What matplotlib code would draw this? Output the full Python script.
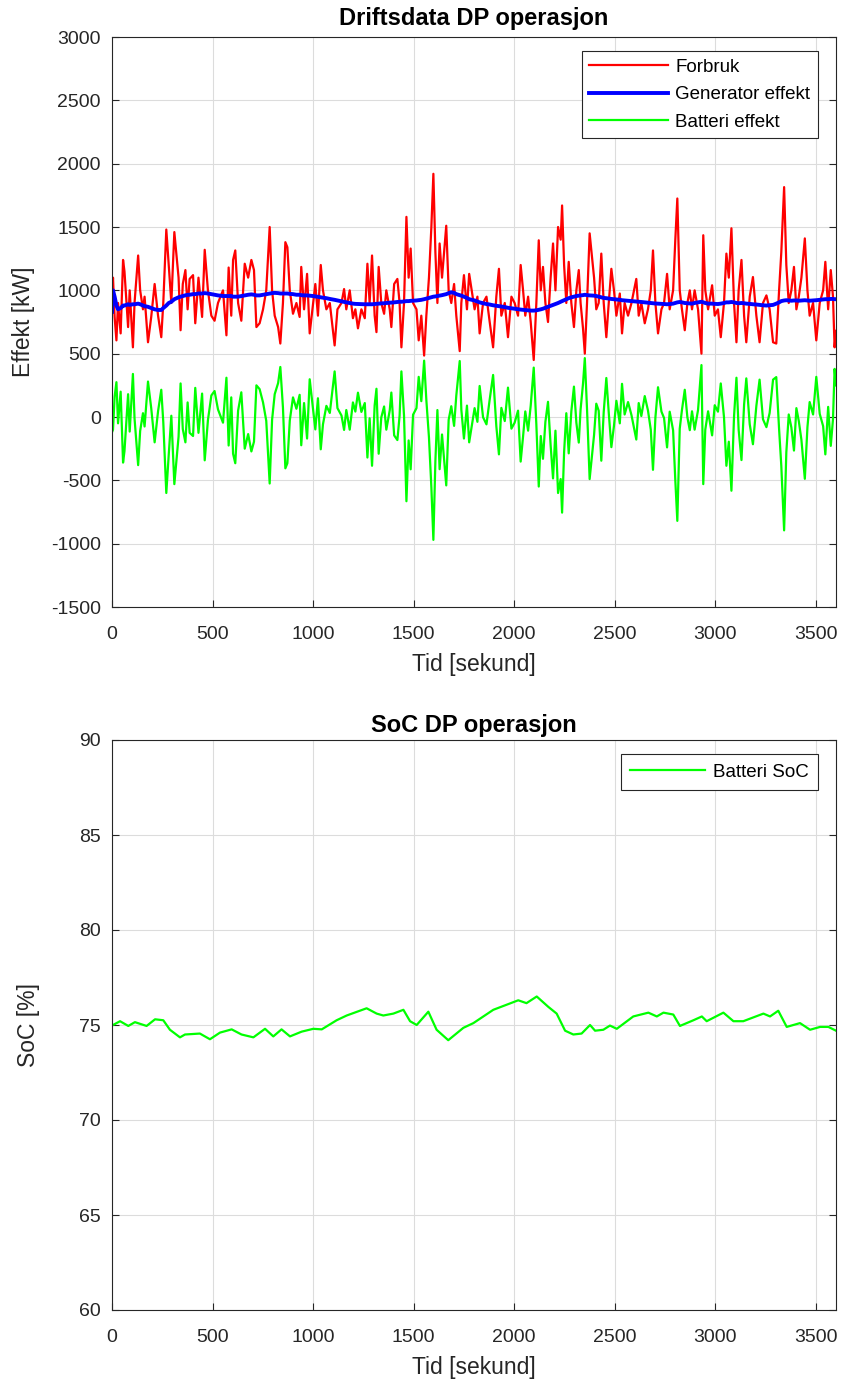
import matplotlib
matplotlib.use("Agg")
import matplotlib.pyplot as plt

plt.rcParams['font.family'] = ['Liberation Sans', 'DejaVu Sans']
plt.rcParams['axes.unicode_minus'] = False

# ---------------- Power data ----------------
tid = [0, 5, 13, 22, 30, 43, 55, 62, 80, 88, 104, 112, 130, 140, 154, 162, 179, 195, 212, 229,
       245, 255, 270, 282, 295, 310, 331, 341, 352, 365, 376, 386, 403, 414, 430, 448, 461, 477, 494, 510,
       527, 552, 569, 580,
       593, 602, 613, 627, 643, 660, 677, 693, 706, 718, 734, 751, 767, 784, 796, 809, 826, 837, 850, 862,
       872, 884, 900, 917, 933, 941, 955, 970, 983, 1000, 1011, 1024, 1038, 1049, 1066, 1083, 1107, 1121, 1141, 1154,
       1165, 1182,
       1198, 1210, 1223, 1240, 1257, 1270, 1281, 1293, 1306, 1315, 1326, 1339, 1353, 1364, 1381, 1389, 1403, 1419, 1430, 1439,
       1452, 1464, 1475, 1485, 1497, 1514, 1525, 1538, 1552, 1563, 1576, 1588, 1598, 1608, 1618, 1629, 1641, 1662, 1674, 1687,
       1701, 1712, 1729, 1737, 1750, 1765, 1776,
       1803, 1817, 1828, 1845, 1862, 1878, 1895, 1911, 1924, 1936, 1953, 1969, 1986, 2002, 2019, 2032, 2044, 2055, 2069, 2082,
       2097, 2110, 2122, 2132, 2143, 2155, 2168, 2181, 2193, 2205, 2218, 2231, 2238, 2248, 2259, 2271, 2284, 2297, 2309, 2321,
       2330, 2342, 2351, 2362, 2375,
       2397, 2408, 2420, 2433, 2445, 2458, 2470, 2483, 2496, 2508, 2525, 2536, 2549, 2566, 2583, 2607, 2619, 2632, 2649, 2665,
       2679, 2690, 2702, 2715, 2732, 2745, 2760, 2773, 2790, 2801, 2811, 2823, 2834, 2848, 2861, 2873, 2884, 2897, 2914, 2931,
       2940, 2950, 2964,
       2984, 2997, 3013, 3027, 3043, 3055, 3067, 3080, 3093, 3105, 3116, 3130, 3143, 3154, 3171, 3187, 3204, 3220, 3237, 3254,
       3270, 3287, 3303, 3317, 3328, 3342, 3353, 3365, 3378, 3391, 3403, 3415, 3428, 3445, 3458, 3469, 3486, 3502, 3519, 3536,
       3547, 3561, 3574, 3585, 3593, 3600]

forbruk = [950, 1100, 790, 605, 900, 660, 1240, 1150, 710, 1000, 550, 900, 1275, 1000, 850, 950, 590, 790, 1050, 800,
           630, 900, 1480, 1200, 900, 1460, 1100, 685, 1050, 1160, 850, 1090, 1120, 740, 1100, 790, 1320, 1000, 800, 760,
           900, 1000, 645, 1180,
           800, 1240, 1315, 900, 760, 1210, 1100, 1240, 1160, 710, 740, 850, 1000, 1500, 1000, 800, 710, 580, 900, 1380,
           1340, 1000, 815, 900, 790, 1185, 850, 1130, 660, 900, 1050, 800, 1200, 1000, 850, 900, 565, 850, 900, 1010,
           850, 1000,
           780, 850, 700, 850, 780, 1210, 900, 1275, 800, 670, 1185, 900, 815, 1000, 850, 710, 1050, 1090, 900, 550,
           900, 1580, 1100, 1330, 900, 850, 605, 800, 485, 800, 1100, 1500, 1920, 1300, 900, 1370, 1100, 1510, 1000, 900,
           1050, 800, 520, 900, 1120, 850, 1130,
           850, 950, 660, 900, 950, 750, 550, 950, 1170, 800, 900, 630, 950, 900, 800, 1200, 1000, 800, 950, 750,
           450, 900, 1395, 1000, 1185, 900, 750, 1100, 1370, 1000, 1500, 1400, 1670, 1200, 900, 1225, 900, 710, 1000, 1160,
           900, 700, 500, 900, 1450,
           1100, 850, 900, 1290, 900, 630, 900, 1170, 1000, 800, 975, 660, 900, 800, 900, 1090, 800, 900, 740, 850,
           1000, 1315, 900, 660, 850, 900, 1130, 850, 1000, 1400, 1725, 1000, 850, 685, 900, 1000, 850, 1000, 850, 500,
           1435, 1000, 850,
           1040, 800, 850, 630, 900, 1290, 1100, 1490, 900, 590, 1000, 1240, 800, 590, 950, 1105, 800, 590, 900, 960,
           850, 590, 580, 1000, 1300, 1815, 1200, 900, 1000, 1185, 850, 950, 1100, 1410, 1000, 800, 900, 605, 900, 1000,
           1225, 850, 1160, 950, 550, 680]

generator = [830, 1000, 950, 880, 850, 860, 880, 880, 890, 885, 890, 890, 895, 890, 880, 875, 870, 860, 850, 845,
             845, 860, 880, 900, 910, 930, 945, 950, 955, 960, 965, 965, 970, 970, 975, 975, 978, 975, 970, 965,
             960, 955, 955, 955,
             955, 950, 950, 950, 955, 960, 965, 968, 965, 960, 960, 965, 970, 975, 978, 980, 978, 975, 975, 975,
             975, 972, 970, 965, 965, 962, 960, 960, 958, 955, 952, 948, 945, 942, 938, 932, 925, 920, 912, 908,
             905, 900,
             895, 893, 892, 890, 890, 890, 890, 890, 892, 893, 895, 897, 898, 900, 902, 903, 905, 908, 910, 910,
             912, 915, 915, 917, 918, 920, 922, 925, 930, 935, 940, 945, 950, 952, 955, 958, 962, 970, 978, 985,
             980, 970, 962, 958, 950, 940, 930,
             920, 912, 905, 898, 892, 888, 882, 878, 875, 872, 868, 862, 858, 855, 850, 848, 846, 844, 842, 840,
             840, 842, 846, 850, 855, 862, 870, 878, 885, 892, 900, 910, 915, 922, 930, 938, 945, 950, 955, 958,
             960, 962, 965, 962, 960,
             958, 955, 950, 945, 940, 938, 935, 932, 930, 928, 925, 922, 920, 918, 915, 912, 910, 908, 905, 902,
             900, 898, 896, 895, 893, 892, 890, 892, 895, 900, 905, 908, 905, 900, 898, 896, 895, 900, 905, 910,
             905, 900, 895,
             895, 893, 892, 895, 900, 905, 905, 908, 905, 900, 898, 900, 898, 895, 893, 890, 888, 885, 882, 880,
             882, 885, 895, 905, 915, 920, 922, 920, 918, 920, 920, 918, 920, 922, 920, 918, 920, 922, 925, 928,
             930, 930, 932, 932, 930, 930]

batteri = [-120, -100, 160, 275, -50, 200, -360, -270, 180, -115, 340, -10, -380, -110, 30, -75, 280, 70, -200, 45,
           215, -40, -600, -300, 10, -530, -155, 265, -95, -200, 115, -125, -150, 230, -125, 185, -342, -25, 170, 205,
           60, -45, 310, -225,
           155, -290, -365, 50, 195, -250, -135, -272, -195, 250, 220, 115, -30, -525, -22, 180, 268, 395, 75, -405,
           -365, -28, 155, 65, 175, -223, 110, -170, 298, 55, -98, 148, -255, -58, 88, 32, 360, 70, 12, -102,
           55, -100,
           115, 43, 192, 40, 110, -320, -10, -385, 92, 223, -290, -3, 83, -100, 52, 193, -145, -182, 10, 360,
           12, -665, -185, -413, 18, 70, 317, 125, 445, 135, -160, -555, -970, -348, 55, -412, -138, -540, -22, 85,
           -70, 170, 442, 58, -170, 90, -200,
           70, -38, 245, -2, -58, 138, 332, -72, -295, 72, -32, 232, -92, -45, 50, -352, -154, 44, -108, 90,
           390, -58, -549, -150, -330, -38, 120, -222, -485, -108, -600, -490, -755, -278, 30, -287, 45, 240, -45, -202,
           60, 262, 465, 62, -490,
           -142, 105, 50, -345, 40, 308, 35, -238, -70, 128, -50, 262, 20, 118, 15, -178, 110, 8, 165, 52,
           -100, -417, -4, 235, 43, -8, -240, 42, -105, -500, -820, -92, 55, 215, -2, -104, 45, -100, 55, 410,
           -530, -100, 45,
           -145, 93, 42, 265, 0, -385, -195, -582, 5, 310, -102, -340, 98, 305, -57, -215, 88, 295, -18, -80,
           32, 295, 315, -95, -385, -895, -278, 20, -82, -265, 70, -32, -180, -488, -80, 118, 20, 317, 25, -72,
           -295, 80, -228, -18, 380, 250]

# ---------------- SoC data ----------------
soc_tid = [0, 40, 81, 114, 172, 214, 255, 288, 338, 363, 437, 487, 537, 595, 644, 703, 761, 802, 843, 885,
           943, 1001, 1043, 1117, 1167, 1266, 1316, 1349, 1399, 1449, 1482, 1515, 1573, 1614, 1672, 1747, 1797, 1896,
           2020, 2061, 2112, 2170, 2211, 2253, 2294, 2335, 2377, 2402, 2443, 2476, 2510, 2592, 2667, 2709, 2742, 2791,
           2824, 2891, 2933, 2957, 3040, 3090, 3139, 3189, 3239, 3272, 3313, 3355, 3421, 3471, 3521, 3562, 3600]
soc = [74.97, 75.2, 74.95, 75.15, 74.95, 75.3, 75.25, 74.75, 74.35, 74.5, 74.55, 74.25, 74.6, 74.77, 74.5, 74.35,
       74.8, 74.4, 74.77, 74.4, 74.65, 74.8, 74.77, 75.25, 75.5, 75.88, 75.6, 75.5, 75.6, 75.8, 75.2, 75.0, 75.7,
       74.75, 74.2, 74.85, 75.1, 75.8, 76.3, 76.15, 76.5, 75.95, 75.6, 74.7, 74.5, 74.55, 75.0, 74.7, 74.75, 74.97,
       74.8, 75.45, 75.65, 75.45, 75.65, 75.55, 74.95, 75.25, 75.45, 75.2, 75.65, 75.2, 75.2, 75.4, 75.6, 75.45,
       75.75, 74.9, 75.1, 74.75, 74.9, 74.9, 74.7]

x_ticks = [0, 500, 1000, 1500, 2000, 2500, 3000, 3500]
y_ticks_top = [-1500, -1000, -500, 0, 500, 1000, 1500, 2000, 2500, 3000]
y_ticks_bot = [60, 65, 70, 75, 80, 85, 90]

TICK = 14
LABEL = 16.5
TITLE = 17
LEGEND = 13.5

fig = plt.figure(figsize=(8.43, 13.83), dpi=100)
W, H = 843, 1383
ax1 = fig.add_axes([112 / W, 1 - 607 / H, 724 / W, 570 / H])
ax2 = fig.add_axes([112 / W, 1 - 1310 / H, 724 / W, 570 / H])

def style(ax):
    ax.grid(True, color='#dcdcdc', linewidth=0.8)
    ax.set_axisbelow(True)
    for s in ax.spines.values():
        s.set_color('#262626')
        s.set_linewidth(0.8)
    ax.tick_params(direction='in', length=5, width=0.8, labelsize=TICK, colors='#262626',
                   top=False, right=True, labelcolor='#262626')
    ax.tick_params(axis='y', pad=8)
    ax.tick_params(axis='x', pad=14)

ax1.plot(tid, forbruk, color='#ff0000', linewidth=1.6, label='Forbruk')
ax1.plot(tid, generator, color='#0000ff', linewidth=2.8, label='Generator effekt')
ax1.plot(tid, batteri, color='#00ff00', linewidth=1.6, label='Batteri effekt')
ax1.set_xlim(0, 3600)
ax1.set_ylim(-1500, 3000)
ax1.set_xticks(x_ticks)
ax1.set_yticks(y_ticks_top)
style(ax1)
ax1.set_title('Driftsdata DP operasjon', fontsize=TITLE, fontweight='bold', pad=9)
ax1.set_xlabel('Tid [sekund]', fontsize=LABEL, color='#262626', labelpad=7)
ax1.set_ylabel('Effekt [kW]', fontsize=LABEL, color='#262626')
ax1.yaxis.set_label_coords(-0.107, 0.5)
leg1 = ax1.legend(loc='upper right', bbox_to_anchor=(0.975, 0.975), fontsize=LEGEND, frameon=True,
                  fancybox=False, edgecolor='#262626', framealpha=1, handlelength=4.2,
                  borderpad=0.4, labelspacing=0.55, handletextpad=0.4, borderaxespad=0)
leg1.get_frame().set_linewidth(0.8)

ax2.plot(soc_tid, soc, color='#00ff00', linewidth=1.6, label='Batteri SoC')
ax2.set_xlim(0, 3600)
ax2.set_ylim(60, 90)
ax2.set_xticks(x_ticks)
ax2.set_yticks(y_ticks_bot)
style(ax2)
ax2.set_title('SoC DP operasjon', fontsize=TITLE, fontweight='bold', pad=6)
ax2.set_xlabel('Tid [sekund]', fontsize=LABEL, color='#262626', labelpad=7)
ax2.set_ylabel('SoC [%]', fontsize=LABEL, color='#262626')
ax2.yaxis.set_label_coords(-0.100, 0.5)
leg2 = ax2.legend(loc='upper right', bbox_to_anchor=(0.975, 0.975), fontsize=LEGEND, frameon=True,
                  fancybox=False, edgecolor='#262626', framealpha=1, handlelength=4.0,
                  borderpad=0.5, handletextpad=0.4, borderaxespad=0)
leg2.get_frame().set_linewidth(0.8)

fig.savefig('out.png', dpi=100)
